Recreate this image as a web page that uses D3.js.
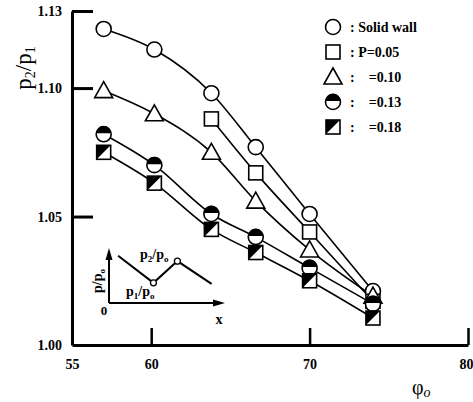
<!DOCTYPE html>
<html lang="en">
<head>
<meta charset="UTF-8">
<title>p2/p1 vs phi0</title>
<style>
  body { margin: 0; background: #fff; }
  svg { display: block; }
  svg text { font-family: 'Liberation Serif', 'Times New Roman', serif !important; fill: #000; }
  .tick text { font-size: 14px; font-weight: bold; }
</style>
</head>
<body>
<script src="https://cdn.jsdelivr.net/npm/d3@7"></script>
<script>
// data
const phi = [57, 60.2, 63.8, 66.6, 70, 74];
const solidWall = [1.123, 1.115, 1.098, 1.077, 1.051, 1.021];
const p005 = [null, null, 1.088, 1.067, 1.044, 1.017];
const p010 = [1.099, 1.090, 1.075, 1.056, 1.037, 1.019];
const p013 = [1.082, 1.070, 1.051, 1.042, 1.030, 1.016];
const p018 = [1.075, 1.063, 1.045, 1.036, 1.025, 1.0105];
const xTicks = [55, 60, 70, 80];
const yTicks = [1.00, 1.05, 1.10, 1.13];
const legendLabels = [": Solid wall", ": P=0.05", ":    =0.10", ":    =0.13", ":    =0.18"];

// inset sketch (schematic)
const insetX = [0.08, 0.39, 0.6, 0.9];
const insetY = [0.89, 0.38, 0.79, 0.36];

const width = 473, height = 402;
const svg = d3.select("body").append("svg").attr("width", width).attr("height", height)
  .attr("font-family", "Liberation Serif");

const x = d3.scaleLinear().domain([55, 80]).range([72, 468]);
const y = d3.scaleLinear().domain([1.00, 1.13]).range([345, 11]);

const series = [
  { name: "wall", vals: solidWall, sym: "circle" },
  { name: "p05", vals: p005, sym: "square" },
  { name: "p10", vals: p010, sym: "triangle" },
  { name: "p13", vals: p013, sym: "halfcircle" },
  { name: "p18", vals: p018, sym: "halfsquare" }
];

// axes
const yAxis = svg.append("g").attr("transform", "translate(72,0)")
  .call(d3.axisLeft(y).tickValues(yTicks).tickFormat(d3.format(".2f")).tickSizeInner(-21).tickSizeOuter(0).tickPadding(31));
yAxis.attr("font-family", null);
yAxis.select(".domain").attr("stroke-width", 3);
yAxis.selectAll(".tick line").attr("stroke-width", 3);
yAxis.selectAll(".tick text").attr("x", -10).attr("text-anchor", "end");
yAxis.selectAll(".tick").filter(d => d === 1.00).select("line").remove();

const xAxis = svg.append("g").attr("transform", "translate(0,345)")
  .call(d3.axisBottom(x).tickValues(xTicks).tickSizeInner(-17).tickSizeOuter(0).tickPadding(10));
xAxis.attr("font-family", null);
xAxis.select(".domain").attr("stroke-width", 3);
xAxis.selectAll(".tick line").attr("stroke-width", 2.5);
xAxis.selectAll(".tick text").attr("y", 14);
xAxis.selectAll(".tick").filter(d => d === 55).select("line").remove();
xAxis.selectAll(".tick").filter(d => d === 80).select("text").attr("text-anchor", "end").attr("dx", 5);

// axis titles
const yl = svg.append("text").attr("transform", "translate(31,68) rotate(-90)")
  .attr("text-anchor", "middle").attr("font-size", 23);
yl.append("tspan").text("p");
yl.append("tspan").attr("font-size", 14).attr("dy", 4).text("2");
yl.append("tspan").attr("dy", -4).text("/p");
yl.append("tspan").attr("font-size", 14).attr("dy", 4).text("1");

const xl = svg.append("text").attr("x", 412).attr("y", 394).attr("font-size", 20);
xl.append("tspan").text("φ");
xl.append("tspan").attr("font-size", 14).attr("font-style", "italic").attr("dy", 3).text("o");

// lines
const line = d3.line()
  .defined(d => d[1] !== null)
  .x(d => x(d[0])).y(d => y(d[1]))
  .curve(d3.curveMonotoneX);

series.forEach(s => {
  const pts = phi.map((p, i) => [p, s.vals[i]]).filter(d => d[1] !== null);
  svg.append("path").datum(pts).attr("d", line)
    .attr("fill", "none").attr("stroke", "#000").attr("stroke-width", 1.6);
});

// markers
function marker(g, sym) {
  const sw = 1.6;
  if (sym === "circle") {
    g.append("circle").attr("r", 7.5).attr("fill", "#fff").attr("stroke", "#000").attr("stroke-width", sw);
  } else if (sym === "square") {
    g.append("rect").attr("x", -7).attr("y", -7).attr("width", 14).attr("height", 14)
      .attr("fill", "#fff").attr("stroke", "#000").attr("stroke-width", sw);
  } else if (sym === "triangle") {
    g.append("path").attr("d", "M0,-9L9,7L-9,7Z")
      .attr("fill", "#fff").attr("stroke", "#000").attr("stroke-width", sw);
  } else if (sym === "halfcircle") {
    g.append("circle").attr("r", 7.5).attr("fill", "#fff").attr("stroke", "#000").attr("stroke-width", sw);
    g.append("path").attr("d", "M-7.5,-1A7.5,7.5 0 0 1 7.5,-1Z").attr("fill", "#000");
  } else if (sym === "halfsquare") {
    g.append("rect").attr("x", -7).attr("y", -7).attr("width", 14).attr("height", 14)
      .attr("fill", "#fff").attr("stroke", "#000").attr("stroke-width", sw);
    g.append("path").attr("d", "M-7,-7L7,-7L-7,7Z").attr("fill", "#000");
  }
}

series.forEach(s => {
  phi.forEach((p, i) => {
    if (s.vals[i] === null) return;
    const g = svg.append("g").attr("transform", `translate(${x(p)},${y(s.vals[i])})`);
    marker(g, s.sym);
  });
});

// legend
series.forEach((s, i) => {
  const cy = 27 + i * 25;
  const g = svg.append("g").attr("transform", `translate(333,${cy})`);
  marker(g, s.sym);
  svg.append("text").attr("x", 350).attr("y", cy + 5).attr("font-size", 14).attr("font-weight", "bold")
    .attr("xml:space", "preserve").style("white-space", "pre").text(legendLabels[i]);
});

// inset sketch
const ix = d3.scaleLinear().domain([0, 1]).range([109, 223]);
const iy = d3.scaleLinear().domain([0, 1]).range([303, 250]);
const inset = svg.append("g");
inset.append("line").attr("x1", ix(0)).attr("y1", iy(0)).attr("x2", ix(0)).attr("y2", iy(1) + 8)
  .attr("stroke", "#000").attr("stroke-width", 2);
inset.append("path").attr("d", `M${ix(0)},${iy(1) - 2}l-3.5,12h7Z`).attr("fill", "#000");
inset.append("line").attr("x1", ix(0)).attr("y1", iy(0)).attr("x2", ix(1) - 8).attr("y2", iy(0))
  .attr("stroke", "#000").attr("stroke-width", 2);
inset.append("path").attr("d", `M${ix(1) + 2},${iy(0)}l-12,-3.5v7Z`).attr("fill", "#000");
const ipts = insetX.map((v, i) => [ix(v), iy(insetY[i])]);
inset.append("path").attr("d", d3.line()(ipts)).attr("fill", "none").attr("stroke", "#000").attr("stroke-width", 2);
[1, 2].forEach(i => inset.append("circle").attr("cx", ipts[i][0]).attr("cy", ipts[i][1]).attr("r", 3)
  .attr("fill", "#fff").attr("stroke", "#000").attr("stroke-width", 1.3));
inset.append("text").attr("x", 104).attr("y", 315).attr("font-size", 13).attr("font-weight", "bold").attr("text-anchor", "middle").text("0");
inset.append("text").attr("x", 219).attr("y", 324).attr("font-size", 14).attr("font-weight", "bold").attr("text-anchor", "middle").text("x");
function ratio(t, xx, yy, sub, rot) {
  const tx = inset.append("text").attr("font-size", 14).attr("font-weight", "bold");
  if (rot) tx.attr("transform", `translate(${xx},${yy}) rotate(-90)`).attr("text-anchor", "middle");
  else tx.attr("x", xx).attr("y", yy);
  tx.append("tspan").text(t);
  if (sub) tx.append("tspan").attr("font-size", 9).attr("dy", 3).text(sub);
  tx.append("tspan").attr("dy", sub ? -3 : 0).text("/p");
  tx.append("tspan").attr("font-size", 9).attr("dy", 3).text("o");
}
ratio("p", 140, 259, "2", false);
ratio("p", 126, 296, "1", false);
ratio("p", 102, 281, "", true);
</script>
</body>
</html>
